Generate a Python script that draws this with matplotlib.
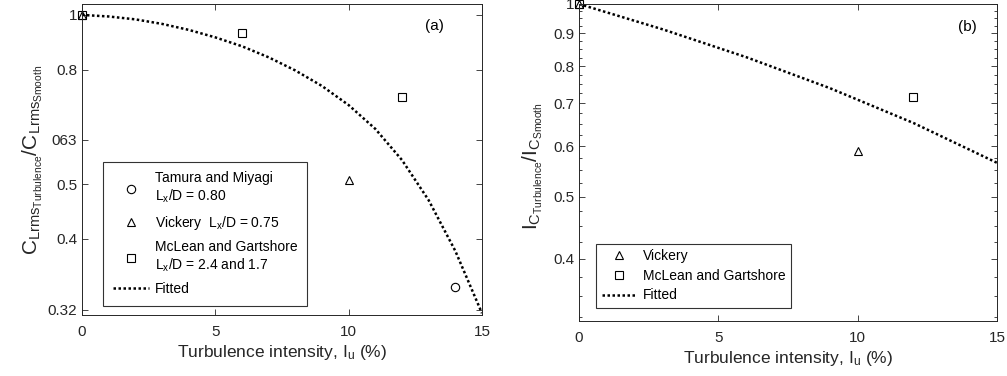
import numpy as np
import matplotlib
matplotlib.use('Agg')
import matplotlib.pyplot as plt
from matplotlib.lines import Line2D

plt.rcParams['font.family'] = ['Liberation Sans', 'DejaVu Sans']
plt.rcParams['mathtext.fontset'] = 'custom'
plt.rcParams['mathtext.rm'] = 'Liberation Sans'
plt.rcParams['mathtext.it'] = 'Liberation Sans'

# panel (a) data
tamura_x = [14]
tamura_y = [0.349]
vickery_a_x = [0, 10]
vickery_a_y = [1.0, 0.529]
mclean_a_x = [0, 6, 12]
mclean_a_y = [1.0, 0.932, 0.727]
fit_a_x = [0, 1, 2, 3, 4, 5, 6, 7, 8, 9, 10, 11, 12, 13, 14, 15]
fit_a_y = [1.0, 0.994, 0.983, 0.966, 0.944, 0.917, 0.886, 0.849, 0.807,
           0.760, 0.706, 0.644, 0.571, 0.489, 0.402, 0.316]
ticks_a = [0.320, 0.421, 0.520, 0.617, 0.809, 1.0]
ticklabels_a = ['0.32', '0.4', '0.5', '063', '0.8', '1']

# panel (b) data
vickery_b_x = [0, 10]
vickery_b_y = [1.0, 0.590]
mclean_b_x = [0, 12]
mclean_b_y = [1.0, 0.717]
fit_b_x = [0, 3, 6, 9, 12, 15]
fit_b_y = [1.0, 0.913, 0.826, 0.739, 0.652, 0.565]
ticks_b = [0.4, 0.5, 0.6, 0.7, 0.8, 0.9, 1.0]
ticklabels_b = ['0.4', '0.5', '0.6', '0.7', '0.8', '0.9', '1']

xticks = [0, 5, 10, 15]
gray = '#262626'

fig = plt.figure(figsize=(10.07, 3.76), dpi=100)
ax1 = fig.add_axes([0.0814, 0.1622, 0.3972, 0.8271])
ax2 = fig.add_axes([0.575, 0.1463, 0.4151, 0.8431])

mk = dict(ls='none', mfc='none', mec='k', ms=6, mew=0.8, clip_on=False)
fitkw = dict(color='k', ls=(0, (1, 1)), lw=1.8)

# (a)
ax1.plot(tamura_x, tamura_y, marker='o', **mk)
ax1.plot(vickery_a_x, vickery_a_y, marker='^', **mk)
ax1.plot(mclean_a_x, mclean_a_y, marker='s', **mk)
ax1.plot(fit_a_x, fit_a_y, **fitkw)
ax1.set_yscale('log')
ax1.set_ylim(0.3138, 1.043)
ax1.set_yticks(ticks_a)
ax1.set_yticklabels(ticklabels_a)
ax1.yaxis.set_minor_locator(matplotlib.ticker.NullLocator())
ax1.set_ylabel(r'$\mathregular{C_{Lrms_{Turbulence}}/C_{Lrms_{Smooth}}}$', fontsize=15)
ax1.yaxis.set_label_coords(-0.092, 0.5)
ax1.text(0.88, 0.93, '(a)', transform=ax1.transAxes, fontsize=11, ha='center', va='center')

h1 = [Line2D([], [], marker='o', **mk), Line2D([], [], marker='^', **mk),
      Line2D([], [], marker='s', **mk), Line2D([], [], **fitkw)]
l1 = ['Tamura and Miyagi\nL$_x$/D = 0.80', 'Vickery  L$_x$/D = 0.75',
      'McLean and Gartshore\nL$_x$/D = 2.4 and 1.7', 'Fitted']
leg1 = ax1.legend(h1, l1, loc='lower left', bbox_to_anchor=(0.0525, 0.029),
                  fontsize=10, frameon=True, fancybox=False, edgecolor='k',
                  handlelength=2.6, handletextpad=0.45, borderaxespad=0,
                  labelspacing=0.6, borderpad=0.7)
leg1.get_frame().set_linewidth(0.8)

# (b)
ax2.plot(vickery_b_x, vickery_b_y, marker='^', **mk)
ax2.plot(mclean_b_x, mclean_b_y, marker='s', **mk)
ax2.plot(fit_b_x, fit_b_y, **fitkw)
ax2.set_yscale('log')
ax2.set_ylim(0.32, 1.0)
ax2.set_yticks(ticks_b)
ax2.set_yticklabels(ticklabels_b)
ax2.set_yticks([v for v in np.arange(0.325, 1.0, 0.025) if min(abs(v - t) for t in ticks_b) > 1e-6], minor=True)
ax2.yaxis.set_minor_formatter(matplotlib.ticker.NullFormatter())
ax2.set_ylabel(r'$\mathregular{I_{C_{Turbulence}}/I_{C_{Smooth}}}$', fontsize=15)
ax2.yaxis.set_label_coords(-0.081, 0.49)
ax2.text(0.928, 0.927, '(b)', transform=ax2.transAxes, fontsize=11, ha='center', va='center')

h2 = [Line2D([], [], marker='^', **mk), Line2D([], [], marker='s', **mk),
      Line2D([], [], **fitkw)]
l2 = ['Vickery', 'McLean and Gartshore', 'Fitted']
leg2 = ax2.legend(h2, l2, loc='lower left', bbox_to_anchor=(0.041, 0.041),
                  fontsize=10, frameon=True, fancybox=False, edgecolor='k',
                  handlelength=2.5, handletextpad=0.45, borderaxespad=0,
                  labelspacing=0.4, borderpad=0.4)
leg2.get_frame().set_linewidth(0.8)

for ax in (ax1, ax2):
    ax.set_xlim(0, 15)
    ax.set_xticks(xticks)
    ax.set_xlabel(r'Turbulence intensity, I$_\mathregular{u}$ (%)', fontsize=12.5, color=gray, labelpad=3)
    ax.tick_params(which='both', direction='in', top=True, right=True,
                   labelsize=11, colors=gray)
    ax.tick_params(axis='x', which='major', pad=7)
    ax.tick_params(which='major', length=4, width=0.6)
    ax.tick_params(which='minor', length=2.5, width=0.6)
    ax.yaxis.label.set_color(gray)
    for s in ax.spines.values():
        s.set_color(gray)
        s.set_linewidth(0.7)

fig.savefig('out.png', dpi=100)
